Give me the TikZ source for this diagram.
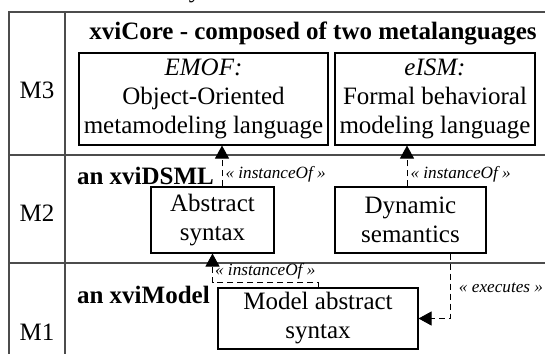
\documentclass[tikz,border=0pt]{standalone}
\usepackage{fontspec}
\setmainfont{Liberation Serif}
\usetikzlibrary{arrows.meta}

\tikzset{
  grid/.style={draw=black!70, line width=0.8pt},
  langbox/.style={draw, line width=0.55pt, align=center, inner sep=0pt,
    font=\fontsize{12.5}{14.5}\selectfont},
  lvl/.style={font=\fontsize{12.5}{14.5}\selectfont, inner sep=0pt},
  head/.style={font=\fontsize{12.5}{14.5}\selectfont\bfseries},
  stereo/.style={font=\fontsize{8.6}{10}\selectfont\itshape, inner sep=1.5pt},
  rel/.style={densely dashed, line width=0.5pt, -{Triangle[width=7pt,length=6.5pt]}}
}

\begin{document}
\begin{tikzpicture}[x=0.5pt, y=-0.5pt]
\useasboundingbox (0,0) rectangle (545,353);
\def\xl{9};
\def\xc{65};
\def\yt{12};
\def\ya{155};
\def\yb{263};

% table of levels
\draw[grid] (560,\yt) -- (\xl,\yt) -- (\xl,370);
\draw[grid] (\xc,\yt) -- (\xc,370);
\draw[grid] (\xl,\ya) -- (560,\ya);
\draw[grid] (\xl,\yb) -- (560,\yb);

\node[lvl, anchor=base] (cap) at (195,-2.5) {y};

\node[lvl] (m3) at (37,90) {M3};
\node[lvl] (m2) at (37,213) {M2};
\node[lvl] (m1) at (37,332) {M1};

% M3
\node[head] (core) at (313,33) {xviCore - composed of two metalanguages};
\node[langbox, minimum width=124.5pt, minimum height=46pt] (emof) at (203.5,99)
  {\textit{EMOF:}\\Object-Oriented\\metamodeling language};
\node[langbox, minimum width=100pt, minimum height=46pt] (eism) at (435,99)
  {\textit{eISM:}\\Formal behavioral\\modeling language};

% M2
\node[head, anchor=west] (dsml) at (70,176) {an xviDSML};
\node[langbox, minimum width=61.5pt, minimum height=33pt] (abs) at (212.5,220)
  {Abstract\\syntax};
\node[langbox, minimum width=75.5pt, minimum height=33pt] (dyn) at (410.5,220)
  {Dynamic\\semantics};

% M1
\node[head, anchor=west] (xmodel) at (70,295) {an xviModel};
\node[langbox, minimum width=100pt, minimum height=30.5pt] (mas) at (318,318.5)
  {Model abstract\\syntax};

% relations
\coordinate (ia) at (222,0);
\coordinate (ib) at (407,0);
\coordinate (ex) at (450,0);
\draw[rel] (abs.north -| ia) -- node[stereo, right, pos=0.29] {« instanceOf »} (emof.south -| ia);
\draw[rel] (dyn.north -| ib) -- node[stereo, right, pos=0.29] {« instanceOf »} (eism.south -| ib);
\draw[rel] (mas.north) -- ++(0,-5) -| node[stereo, above, pos=0.25] {« instanceOf »} (abs.south);
\draw[rel] (dyn.south -| ex) |- (mas.east);
\node[stereo] (exe) at (501,288) {« executes »};
\end{tikzpicture}
\end{document}
